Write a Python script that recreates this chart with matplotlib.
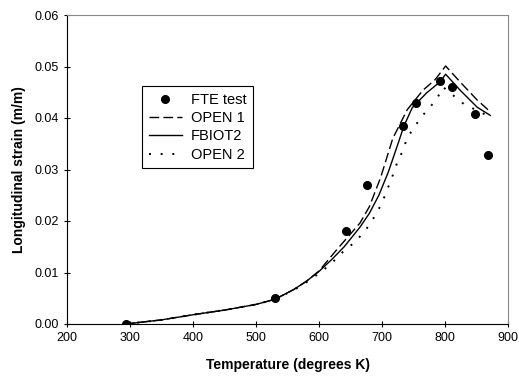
import matplotlib
matplotlib.use("Agg")
import matplotlib.pyplot as plt

plt.rcParams['font.family'] = ['Liberation Sans', 'DejaVu Sans']

# FTE test data points
test_T = [293, 530, 643, 676, 733, 754, 792, 811, 848, 868]
test_eps = [0.0000, 0.0050, 0.0181, 0.0270, 0.0385, 0.0429, 0.0472, 0.0460, 0.0408, 0.0328]

# FBIOT2 (solid)
fbiot_T = [293, 350, 400, 450, 500, 530, 560, 580, 600, 620, 640, 665, 680, 695, 710, 724, 735, 748, 771, 792, 801, 824, 851, 872]
fbiot_eps = [0.0000, 0.0008, 0.0018, 0.0027, 0.0038, 0.0048, 0.0067, 0.0083, 0.0102, 0.0125, 0.0150, 0.0188, 0.0215, 0.0250, 0.0295, 0.0345, 0.0385, 0.0420, 0.0449, 0.0470, 0.0485, 0.0454, 0.0421, 0.0405]

# OPEN 1 (dashed)
open1_T = [293, 350, 400, 450, 500, 530, 560, 580, 600, 628, 665, 680, 698, 717, 740, 765, 784, 801, 824, 851, 872]
open1_eps = [0.0000, 0.0008, 0.0018, 0.0027, 0.0038, 0.0048, 0.0067, 0.0083, 0.0103, 0.0144, 0.0196, 0.0228, 0.0285, 0.0360, 0.0416, 0.0454, 0.0474, 0.0501, 0.0470, 0.0435, 0.0412]

# OPEN 2 (dotted)
open2_T = [293, 350, 400, 450, 500, 530, 560, 580, 600, 620, 638, 659, 676, 689, 700, 708, 716, 724, 732, 740, 752, 768, 786, 797, 830, 872]
open2_eps = [0.0000, 0.0008, 0.0018, 0.0027, 0.0038, 0.0048, 0.0066, 0.0081, 0.0098, 0.0118, 0.0140, 0.0161, 0.0186, 0.0210, 0.0235, 0.0260, 0.0285, 0.0313, 0.0334, 0.0361, 0.0384, 0.0410, 0.0435, 0.0460, 0.0427, 0.0402]

fig = plt.figure(figsize=(5.19, 3.78), dpi=100)
ax = fig.add_axes([67 / 519, 1 - 324 / 378, 441 / 519, 309 / 378])

ax.plot(test_T, test_eps, 'o', color='black', markersize=5.5, label='FTE test')
ax.plot(open1_T, open1_eps, color='black', linewidth=1.0, dashes=(7, 3), label='OPEN 1')
ax.plot(fbiot_T, fbiot_eps, color='black', linewidth=1.0, label='FBIOT2')
ax.plot(open2_T, open2_eps, color='black', linewidth=1.4, linestyle=(0, (1, 5)), label='OPEN 2')

ax.set_xlim(200, 900)
ax.set_ylim(0, 0.06)
ax.set_xticks(range(200, 901, 100))
ax.set_yticks([0.00, 0.01, 0.02, 0.03, 0.04, 0.05, 0.06])
ax.set_yticklabels(['0.00', '0.01', '0.02', '0.03', '0.04', '0.05', '0.06'])
ax.tick_params(direction='inout', length=5, width=0.8, labelsize=9)

for side in ['top', 'right']:
    ax.spines[side].set_color('#888888')
    ax.spines[side].set_linewidth(0.8)
for side in ['left', 'bottom']:
    ax.spines[side].set_linewidth(0.8)

ax.set_xlabel('Temperature (degrees K)', fontsize=10, fontweight='bold', labelpad=10)
ax.set_ylabel('Longitudinal strain (m/m)', fontsize=10, fontweight='bold', labelpad=6)

leg = ax.legend(loc='upper left', bbox_to_anchor=(0.170, 0.770), fontsize=10.5,
                frameon=True, fancybox=False, edgecolor='black', framealpha=1,
                handlelength=2.3, borderpad=0.45, labelspacing=0.3, handletextpad=0.6,
                borderaxespad=0)
leg.get_frame().set_linewidth(0.8)

fig.savefig('out.png', dpi=100)
